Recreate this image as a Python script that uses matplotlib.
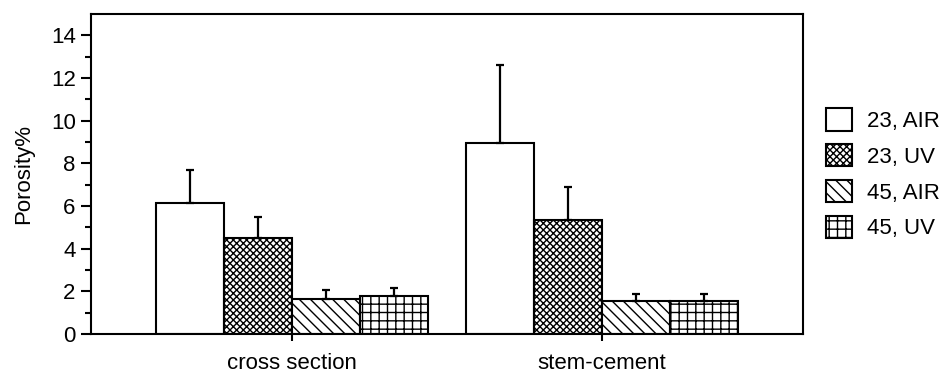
import numpy as np
import matplotlib
matplotlib.use('Agg')
import matplotlib.pyplot as plt

# data
groups = ['cross section', 'stem-cement']
labels = ['23, AIR', '23, UV', '45, AIR', '45, UV']
means = [[6.15, 8.95],
         [4.5, 5.35],
         [1.65, 1.55],
         [1.8, 1.55]]
errs = [[1.55, 3.65],
        [1.0, 1.55],
        [0.4, 0.3],
        [0.35, 0.3]]
hatches = ['', 'xxxxx', '\\\\\\', '++']

plt.rcParams['font.family'] = ['Liberation Sans', 'DejaVu Sans']
plt.rcParams['hatch.linewidth'] = 1.0

fig = plt.figure(figsize=(9.48, 3.74), dpi=100)
ax = fig.add_axes([0.096, 0.107, 0.751, 0.856])

x = np.arange(len(groups))
w = 0.219
for i in range(4):
    pos = x + (i - 1.5) * w
    ax.bar(pos, means[i], w, color='white', edgecolor='black', linewidth=1.5,
           hatch=hatches[i], label=labels[i], zorder=2)
    ax.errorbar(pos, means[i], yerr=[np.zeros(2), errs[i]], fmt='none',
                ecolor='black', elinewidth=1.6, capsize=3, capthick=1.6, zorder=3)

ax.set_xlim(-0.648, 1.648)
ax.set_ylim(0, 15)
ax.set_yticks(np.arange(0, 15, 2))
ax.set_yticks(np.arange(1, 15, 2), minor=True)
ax.set_xticks(x)
ax.set_xticklabels(groups)
ax.tick_params(axis='y', which='major', length=7, width=1.5, labelsize=16, pad=4)
ax.tick_params(axis='y', which='minor', length=4, width=1.5)
ax.tick_params(axis='x', length=5, width=1.5, labelsize=16, pad=9)
for s in ax.spines.values():
    s.set_linewidth(1.5)
ax.set_ylabel('Porosity%', fontsize=16, labelpad=12)

ax.legend(loc='center left', bbox_to_anchor=(1.02, 0.5), frameon=False,
          fontsize=16, handlelength=1.15, handleheight=1.15, handletextpad=0.7,
          labelspacing=0.55, borderaxespad=0)

fig.savefig('out.png', dpi=100)
